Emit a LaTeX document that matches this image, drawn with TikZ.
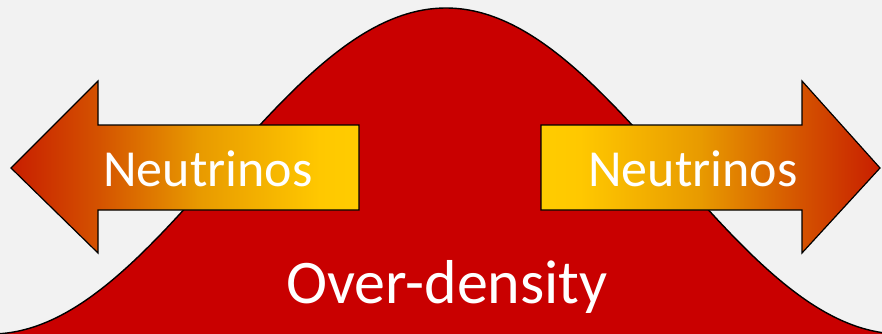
\documentclass[tikz,border=0pt]{standalone}
\usepackage{fontspec}
\setmainfont{Carlito}
\definecolor{bg}{HTML}{F2F2F2}
\definecolor{bump}{HTML}{C90000}
\definecolor{ared}{HTML}{C81E00}
\definecolor{aorange}{HTML}{D45200}
\definecolor{amid}{HTML}{E89A00}
\definecolor{ayel}{HTML}{FFC800}
\definecolor{ayel2}{HTML}{FFCC00}
\pgfdeclarehorizontalshading{larrow}{100bp}{color(0bp)=(ared); color(25bp)=(ared); color(37.5bp)=(aorange); color(52bp)=(amid); color(69.4bp)=(ayel); color(75bp)=(ayel2); color(100bp)=(ayel2)}
\pgfdeclarehorizontalshading{rarrow}{100bp}{color(0bp)=(ayel2); color(25bp)=(ayel2); color(30.8bp)=(ayel); color(48.5bp)=(amid); color(63.5bp)=(aorange); color(75bp)=(ared); color(100bp)=(ared)}
\tikzset{
  bumpstyle/.style={fill=bump, draw=black, line width=1.4pt, line join=round},
  arrowshape/.style={draw=black, line width=1.2pt, line join=miter},
  label/.style={text=white, inner sep=0pt, anchor=base}
}
\begin{document}
\begin{tikzpicture}[x=1pt,y=-1pt]
\useasboundingbox (0,0) rectangle (882,334);
\fill[bg] (0,0) rectangle (882,334);
\begin{scope}
\clip (0,0) rectangle (882,334);
\draw[bumpstyle] plot[domain=-9:901, samples=240, smooth] (\x, {171-163*cos(0.395604*(\x-446))}) -- (901,370) -- (-9,370) -- cycle;
\end{scope}
\shadedraw[arrowshape, shading=larrow] (11,168) -- (98,81) -- (98,125) -- (359,125) -- (359,210) -- (98,210) -- (98,253) -- cycle;
\shadedraw[arrowshape, shading=rarrow] (880,168) -- (802,81) -- (802,125) -- (541,125) -- (541,210) -- (802,210) -- (802,253) -- cycle;
\node[label, font=\fontsize{52}{60}\selectfont] (nl) at (208,186) {Neutrinos};
\node[label, font=\fontsize{52}{60}\selectfont] (nr) at (693,186) {Neutrinos};
\node[label, font=\fontsize{62}{70}\selectfont] (od) at (447,303) {Over-density};
\end{tikzpicture}
\end{document}
